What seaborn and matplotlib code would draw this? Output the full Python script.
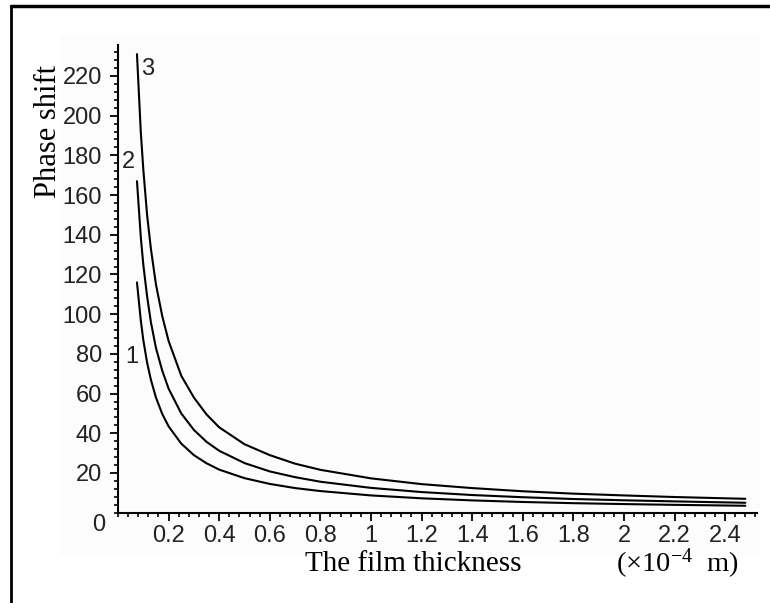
import matplotlib
matplotlib.use("Agg")
import matplotlib.pyplot as plt
import seaborn as sns
import pandas as pd
from matplotlib.lines import Line2D
from matplotlib.patches import Rectangle
from matplotlib.ticker import MultipleLocator, FixedLocator, FixedFormatter

# ---- data ----
thickness = [0.075, 0.09, 0.1, 0.115, 0.13, 0.15, 0.175, 0.2, 0.25, 0.3, 0.35,
             0.4, 0.5, 0.6, 0.7, 0.8, 1.0, 1.2, 1.4, 1.6, 1.8, 2.0, 2.2, 2.48]
curve1 = [116, 97, 87, 75.6, 67, 58, 49.7, 43.5, 34.8, 29, 24.9,
          21.7, 17.4, 14.5, 12.4, 10.9, 8.7, 7.25, 6.2, 5.4, 4.8, 4.35, 3.95, 3.5]
curve2 = [167, 139, 125, 109, 96, 83, 71.5, 62.5, 50, 41.7, 35.7,
          31.2, 25, 20.8, 17.9, 15.6, 12.5, 10.4, 8.9, 7.8, 6.9, 6.25, 5.7, 5.0]
curve3 = [231, 192, 173, 150, 133, 115, 99, 86.5, 69, 58, 49.5,
          43, 34.5, 29, 24.7, 21.6, 17.3, 14.4, 12.4, 10.8, 9.6, 8.7, 7.9, 7.0]
curve_names = ["1", "2", "3"]
label_pos = [(0.055, 78.4), (0.043, 176.7), (0.117, 223.5)]

x_ticks = [0.2, 0.4, 0.6, 0.8, 1.0, 1.2, 1.4, 1.6, 1.8, 2.0, 2.2, 2.4]
x_ticklabels = ["0.2", "0.4", "0.6", "0.8", "1", "1.2", "1.4", "1.6", "1.8", "2", "2.2", "2.4"]
y_ticks = [20, 40, 60, 80, 100, 120, 140, 160, 180, 200, 220]
y_ticklabels = ["20", "40", "60", "80", "100", "120", "140", "160", "180", "200", "220"]

sns.set_theme(style="white")
plt.rcParams['font.family'] = ['Liberation Sans', 'DejaVu Sans']
plt.rcParams['mathtext.fontset'] = 'custom'
plt.rcParams['mathtext.rm'] = 'Liberation Serif'
plt.rcParams['mathtext.it'] = 'Liberation Serif:italic'

fig = plt.figure(figsize=(7.7, 6.03), dpi=100)
fig.patch.set_facecolor("white")
# faint panel background
fig.patches.append(Rectangle((60 / 770, 1 - 555 / 603), 700 / 770, 520 / 603,
                             transform=fig.transFigure, facecolor="#fcfcfc",
                             edgecolor="none", zorder=-5))
# outer frame (left and top)
fig.add_artist(Line2D([11 / 770, 11 / 770], [0, 1 - 6 / 603], transform=fig.transFigure,
                      color="black", lw=2))
fig.add_artist(Line2D([11 / 770, 1], [1 - 6 / 603, 1 - 6 / 603], transform=fig.transFigure,
                      color="black", lw=2.5))

ax = fig.add_axes([118 / 770, 1 - 512.7 / 603, (757 - 118) / 770, (512.7 - 45) / 603])
ax.set_zorder(2)
ax.patch.set_visible(False)

df = pd.DataFrame({"x": thickness * 3,
                   "y": curve1 + curve2 + curve3,
                   "curve": ["1"] * len(thickness) + ["2"] * len(thickness) + ["3"] * len(thickness)})
for name in curve_names:
    sub = df[df["curve"] == name]
    sns.lineplot(data=sub, x="x", y="y", color="black", lw=1.5, ax=ax, legend=False)

for name, (lx, ly) in zip(curve_names, label_pos):
    ax.text(lx, ly, name, fontsize=17, ha="center", va="center", color="#222222")

ax.set_xlim(0, 2.526)
ax.set_ylim(0, 235.6)

for s in ["top", "right"]:
    ax.spines[s].set_visible(False)
for s in ["left", "bottom"]:
    ax.spines[s].set_color("black")
    ax.spines[s].set_linewidth(1.5)

ax.xaxis.set_major_locator(FixedLocator(x_ticks))
ax.xaxis.set_major_formatter(FixedFormatter(x_ticklabels))
ax.xaxis.set_minor_locator(MultipleLocator(0.04))
ax.yaxis.set_major_locator(FixedLocator(y_ticks))
ax.yaxis.set_major_formatter(FixedFormatter(y_ticklabels))
ax.yaxis.set_minor_locator(MultipleLocator(4))

ax.tick_params(axis="both", which="major", direction="out", length=5.5, width=1.3,
               color="black", labelsize=17, labelcolor="#222222", bottom=True, left=True)
ax.tick_params(axis="both", which="minor", direction="out", length=3, width=1.2,
               color="black", bottom=True, left=True)
ax.tick_params(axis="x", which="major", pad=3)
ax.tick_params(axis="y", which="major", pad=6)

ax.annotate("0", xy=(0, 0), xycoords="data", xytext=(-19, -12), textcoords="offset pixels",
            fontsize=17, ha="center", va="center", color="#222222", annotation_clip=False)

ax.set_xlabel("")
ax.set_ylabel("")
fig.text(413 / 770, 1 - 564 / 603, "The film thickness", family="Liberation Serif",
         fontsize=21, ha="center", va="center", color="black")
fig.text(677 / 770, 1 - 564 / 603, "(\u00d710$^{-4}$  m)", family="Liberation Serif",
         fontsize=20.5, ha="center", va="center", color="black")
fig.text(48 / 770, 1 - 131 / 603, "Phase shift", family="Liberation Serif",
         fontsize=22, rotation=90, ha="center", va="center", color="black")

fig.savefig("out.png", dpi=100, facecolor="white")
